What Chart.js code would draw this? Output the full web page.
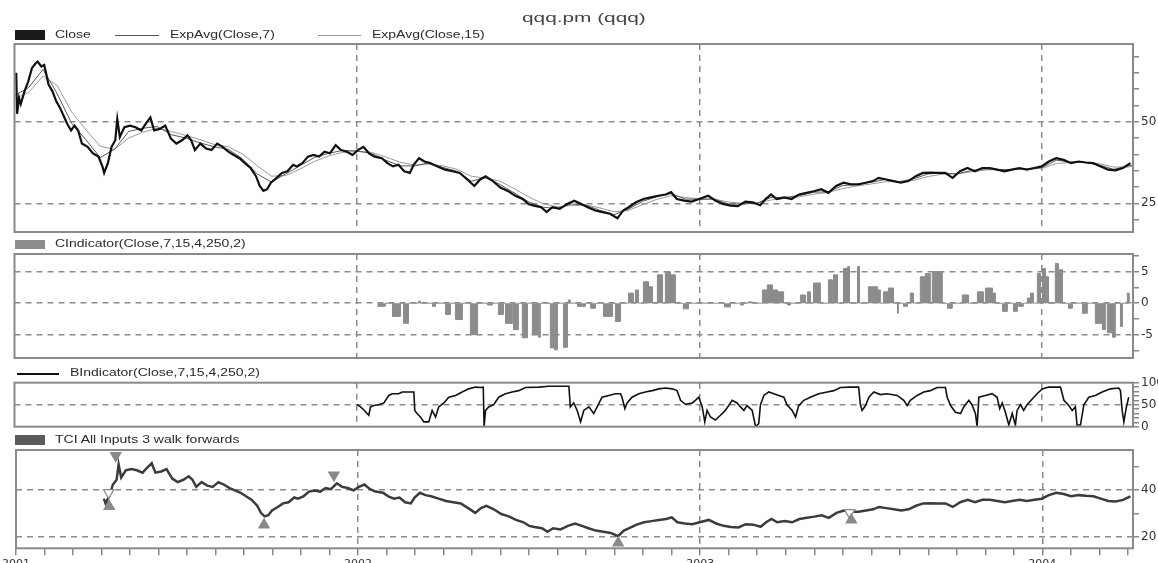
<!DOCTYPE html>
<html>
<head>
<meta charset="utf-8">
<title>qqq.pm (qqq)</title>
<script src="https://cdn.jsdelivr.net/npm/chart.js@4.4.1/dist/chart.umd.min.js"></script>
<style>
  html, body { margin: 0; padding: 0; background: #fff; }
  body { width: 1158px; height: 563px; overflow: hidden; position: relative; font-family: 'Liberation Sans', Arial, sans-serif; color: #2a2a2a; }
  canvas { position: absolute; left: 0; top: 0; }
  .txt { position: absolute; font-size: 10px; line-height: 12px; white-space: nowrap; transform: scaleX(1.4); transform-origin: 0 50%; z-index: 5; }
  .title { position: absolute; left: 522px; top: 10px; font-size: 13px; line-height: 15px; white-space: nowrap; transform: scaleX(1.6); transform-origin: 0 50%; color: #444; z-index: 5; }
  .sw { position: absolute; z-index: 5; }
</style>
</head>
<body>
<div class="title">qqq.pm (qqq)</div>

<div class="sw" style="left:15px;top:30px;width:30px;height:10px;background:#1a1a1a;"></div>
<div class="txt" style="left:55px;top:29px;">Close</div>
<div class="sw" style="left:115px;top:35px;width:44px;height:1px;background:#555;"></div>
<div class="txt" style="left:170px;top:29px;">ExpAvg(Close,7)</div>
<div class="sw" style="left:318px;top:35px;width:43px;height:1px;background:#999;"></div>
<div class="txt" style="left:372px;top:29px;">ExpAvg(Close,15)</div>

<div class="sw" style="left:15px;top:240px;width:30px;height:9px;background:#8c8c8c;"></div>
<div class="txt" style="left:55px;top:238px;">CIndicator(Close,7,15,4,250,2)</div>

<div class="sw" style="left:17px;top:373px;width:42px;height:1.5px;background:#111;"></div>
<div class="txt" style="left:70px;top:367px;">BIndicator(Close,7,15,4,250,2)</div>

<div class="sw" style="left:15px;top:435px;width:30px;height:10px;background:#5a5a5a;"></div>
<div class="txt" style="left:55px;top:434px;">TCI All Inputs 3 walk forwards</div>

<canvas id="pricePanel" width="1158" height="563"></canvas>
<canvas id="cPanel" width="1158" height="563"></canvas>
<canvas id="bPanel" width="1158" height="563"></canvas>
<canvas id="tciPanel" width="1158" height="563"></canvas>

<script>
// ** Data, x = months since Jan 2001

const closeMonths = [0.06,0.09,0.16,0.22,0.35,0.48,0.61,0.74,0.81,0.94,
  1.04,1.13,1.19,1.33,1.46,1.59,1.72,1.85,1.98,2.10,
  2.23,2.36,2.56,2.75,2.94,3.08,3.14,3.27,3.40,3.53,
  3.60,3.69,3.85,4.05,4.24,4.44,4.63,4.76,4.89,5.09,
  5.28,5.48,5.67,5.87,6.06,6.19,6.32,6.51,6.71,6.90,
  7.10,7.29,7.49,7.68,7.88,8.07,8.27,8.46,8.59,8.72,
  8.85,8.98,9.18,9.37,9.56,9.76,9.89,10.08,10.28,10.47,
  10.67,10.86,11.05,11.25,11.44,11.64,11.84,12.03,12.22,12.42,
  12.61,12.87,13.06,13.26,13.45,13.65,13.85,13.98,14.17,14.36,
  14.56,14.82,15.08,15.34,15.60,15.86,16.11,16.31,16.50,16.76,
  17.02,17.28,17.54,17.80,18.00,18.19,18.45,18.64,18.84,19.10,
  19.36,19.61,19.85,20.08,20.34,20.60,20.86,21.12,21.32,21.51,
  21.77,22.03,22.29,22.55,22.81,23.00,23.20,23.46,23.72,23.98,
  24.30,24.56,24.82,25.08,25.34,25.60,25.86,26.12,26.31,26.50,
  26.70,26.96,27.22,27.48,27.74,28.00,28.26,28.51,28.78,29.04,
  29.30,29.56,29.81,30.07,30.27,30.53,30.79,31.05,31.31,31.57,
  31.82,32.08,32.34,32.60,32.86,33.12,33.38,33.64,33.90,34.16,
  34.42,34.68,34.94,35.20,35.46,35.72,35.98,36.23,36.49,36.75,
  37.01,37.27,37.53,37.79,38.05,38.31,38.57,38.83,39.09]
const closeValues = [65.0,52.4,57.3,55.4,59.3,62.3,66.4,67.9,68.4,66.9,
  67.4,63.9,61.4,59.3,56.3,54.3,51.8,49.3,47.3,48.8,
  47.3,43.3,42.3,40.3,39.3,36.3,34.3,37.3,42.3,44.3,
  50.8,45.3,48.3,48.8,48.3,47.3,49.8,51.3,47.3,47.8,
  48.8,44.8,43.3,44.3,45.8,44.3,41.3,43.3,41.8,41.3,
  43.3,42.3,40.8,39.8,38.8,37.3,35.8,33.3,30.3,28.8,
  29.3,31.3,32.8,34.3,34.8,36.8,36.3,37.3,39.3,39.8,
  39.3,40.8,40.3,42.8,41.3,40.8,39.8,41.3,42.3,40.3,
  39.3,38.8,37.3,36.3,36.8,34.8,34.3,36.8,38.8,37.8,
  37.3,36.3,35.3,34.8,34.3,32.3,30.3,32.3,33.3,31.8,
  29.8,28.8,27.3,26.3,24.8,24.3,23.8,22.3,23.8,23.3,
  24.8,25.8,24.8,23.8,22.8,22.3,21.8,20.4,22.8,23.8,
  25.3,26.3,26.8,27.3,27.7,28.4,26.3,25.8,25.5,26.3,
  27.3,25.8,24.8,24.3,24.1,25.5,25.3,24.4,26.3,27.7,
  26.3,26.8,26.3,27.7,28.2,28.7,29.3,28.2,30.3,31.3,
  30.8,30.8,31.3,31.8,32.8,32.3,31.8,31.3,31.8,33.3,
  34.3,34.4,34.3,34.3,32.8,34.8,35.8,34.8,35.8,35.8,
  35.3,34.8,35.3,35.8,35.3,35.8,36.3,37.8,38.8,38.3,
  37.3,37.8,37.5,37.3,36.3,35.3,35.1,35.8,37.3]

const emaMonths = [0,0.5,1,1.5,2,2.5,3,3.5,4,4.5,5,5.5,6,6.5,7,7.5,8,8.5,9,9.5,
  10,10.5,11,11.5,12,12.5,13,13.5,14,14.5,15,15.5,16,16.5,17,17.5,18,18.5,19,19.5,
  20,20.5,21,21.5,22,22.5,23,23.5,24,24.5,25,25.5,26,26.5,27,27.5,28,28.5,29,29.5,
  30,30.5,31,31.5,32,32.5,33,33.5,34,34.5,35,35.5,36,36.5,37,37.5,38,38.5,39,39.2]
const ema7Values = [58,60.5,66,58.5,49.5,44.5,39,41.5,47,48,
  48.5,46,45,43.5,42.3,41.5,38.5,34,31.5,34,
  36.5,39,40.3,41.2,41,40.3,38.2,36.5,36.4,37.4,
  36,34.8,31.8,32.8,30.8,28.2,25.5,23.8,23.4,24.8,
  24.4,22.9,21.5,23.2,25.6,27,28,26.3,26.2,26.3,
  24.8,24.8,25,26.8,26.8,27.4,28.4,28.5,30.4,30.8,
  31.4,32.3,31.6,32.5,34,34.3,34,35,35.6,35.3,
  35.4,35.5,36,38.2,37.7,37.5,36.7,35.4,36.4,36.8]
const ema15Values = [57,59,64,61,53,47.5,42.5,41.5,45,46.8,
  48,47,45.8,44.5,43,42.3,40,36.5,33.3,33.5,
  35.5,37.8,39.5,40.6,40.9,40.6,39.2,37.6,36.7,37,
  36.5,35.4,33.3,32.7,31.8,29.5,27,24.9,23.9,24.3,
  24.5,23.6,22.4,22.8,24.6,26.2,27.3,26.8,26.3,26.3,
  25.4,25,25,26,26.5,27,27.8,28.3,29.5,30.3,
  30.9,31.6,31.7,32,33.2,33.9,34,34.6,35.2,35.3,
  35.3,35.4,35.7,37.2,37.5,37.5,37.1,36.1,36.1,36.4]

// CIndicator histogram: blocks of equal daily bars
const cStart = [12.71,13.24,13.63,14.15,14.64,15.10,15.45,15.97,16.57,16.95,
  17.20,17.48,17.79,18.14,18.35,18.77,18.91,19.23,19.40,19.72,
  20.18,20.63,21.05,21.51,21.75,22.03,22.21,22.52,22.80,22.98,
  23.43,24.87,25.43,25.71,26.20,26.37,26.55,26.73,27.08,27.53,
  27.78,27.99,28.51,28.69,29.04,29.18,29.53,29.91,30.23,30.44,
  30.61,30.93,31.14,31.38,31.73,31.91,32.15,32.33,32.68,33.20,
  33.73,34.01,34.26,34.61,34.99,35.17,35.48,35.59,35.83,36.01,
  36.11,36.46,36.57,36.92,37.41,37.86,38.11,38.28,38.46,38.74,38.98]
const cEnd = [12.99,13.52,13.80,14.22,14.75,15.27,15.69,16.22,16.74,17.13,
  17.44,17.65,17.97,18.32,18.42,18.88,19.02,19.37,19.47,20.00,
  20.35,20.95,21.23,21.68,21.86,22.21,22.35,22.70,22.98,23.15,
  23.61,25.08,25.53,25.85,26.37,26.55,26.73,26.94,27.18,27.71,
  27.88,28.23,28.65,28.83,29.18,29.25,29.60,30.23,30.33,30.61,
  30.79,30.96,31.28,31.49,31.91,32.08,32.33,32.50,32.85,33.42,
  33.94,34.26,34.36,34.78,35.13,35.34,35.59,35.69,35.94,36.11,
  36.22,36.57,36.71,37.06,37.58,38.11,38.21,38.46,38.56,38.81,39.05]
const cValue = [-0.5,-2.1,-3.2,0.3,-0.5,-1.8,-2.6,-5.0,-0.3,-1.8,
  -3.2,-4.2,-5.5,-5.0,-5.4,-7.1,-7.4,-7.0,0.5,-0.5,
  -0.8,-2.1,-2.9,1.6,2.1,3.4,2.6,4.5,5.0,4.5,
  -0.9,-0.6,-0.3,0.2,2.1,2.9,2.1,1.8,-0.3,1.3,
  1.8,3.2,3.7,4.5,5.5,5.8,5.8,2.6,2.1,1.8,
  2.4,-1.6,-0.5,1.6,4.2,4.7,5.0,5.0,-0.8,1.3,
  1.8,2.4,1.6,-1.3,-1.3,-0.5,0.8,1.6,4.7,5.5,
  4.2,6.3,5.3,-0.8,-1.6,-3.2,-4.2,-4.7,-5.4,-3.7,1.6]

const bMonths = [12.00,12.12,12.24,12.41,12.47,12.59,12.76,12.94,13.11,13.23,
  13.46,13.58,13.99,14.02,14.10,14.22,14.34,14.51,14.63,14.75,
  14.86,15.04,15.21,15.45,15.68,15.91,16.15,16.32,16.42,16.45,
  16.50,16.61,16.79,16.96,17.20,17.43,17.66,17.90,18.37,18.72,
  19.42,19.47,19.59,19.71,19.83,19.94,20.12,20.29,20.41,20.58,
  20.82,21.05,21.23,21.28,21.38,21.46,21.63,21.87,22.10,22.34,
  22.57,22.80,23.04,23.21,23.33,23.50,23.74,23.85,23.97,24.09,
  24.18,24.26,24.38,24.55,24.73,24.90,25.14,25.31,
  25.43,25.55,25.66,25.84,25.96,26.07,26.13,26.25,26.42,26.60,
  26.77,26.95,27.06,27.24,27.36,27.47,27.65,27.88,28.17,28.47,
  28.70,28.93,29.28,29.57,29.63,29.69,29.81,29.93,30.10,30.33,
  30.57,30.92,31.15,31.27,31.38,31.62,31.85,32.08,32.32,32.61,
  32.67,32.79,32.96,33.14,33.25,33.43,33.54,33.66,33.72,33.78,
  34.01,34.24,34.42,34.51,34.60,34.71,34.83,34.95,35.06,35.12,
  35.24,35.35,35.47,35.65,35.82,36.00,36.23,36.64,36.76,36.93,
  37.05,37.16,37.22,37.34,37.46,37.63,37.86,38.10,38.39,38.68,
  38.74,38.80,38.86,38.95,39.03]
const bValues = [50,45,38,26,45,48,50,54,71,75,
  75,79,79,37,30,22,11,11,37,22,
  45,54,67,71,79,86,90,89,90,0,
  37,45,50,67,75,79,82,89,90,92,
  92,45,54,37,11,37,45,30,45,67,
  71,75,75,67,41,54,67,75,79,82,
  86,88,86,82,60,51,54,60,67,45,
  11,37,22,15,26,37,60,54,
  45,37,48,37,0,7,50,71,79,75,
  71,67,50,37,22,48,60,67,75,79,
  82,89,90,90,50,37,48,67,79,73,
  75,71,60,48,60,71,79,82,89,89,
  67,48,33,30,45,60,50,30,0,67,
  71,75,67,41,54,33,4,30,4,37,
  50,37,50,63,75,86,90,90,60,48,
  37,45,4,4,50,67,71,79,86,88,
  82,37,11,45,67]

// TCI trade markers
const buyMonths = [3.27, 8.70, 21.12, 29.30]
const buyValues = [33, 25.2, 17.6, 27.3]
const sellMonths = [3.50, 11.15]
const sellValues = [54.5, 46.3]
const exitMonths = [3.25, 29.24]
const exitValues = [38.9, 30.4]
const tciFrom = 3.08

// ** Axes
const yearLabels = ['2001', '2002', '2003', '2004']
const yearGrid = [12, 24, 36]
const monthTicks = Array.from({ length: 40 }, (_, i) => i)
const xMax = 39.18

const priceTicks = [20, 25, 30, 35, 40, 45, 50, 55, 60, 65, 70]
const priceLabels = [25, 50]
const cTicks = [-7.5, -5, -2.5, 0, 2.5, 5, 7.5]
const cLabels = [-5, 0, 5]
const bTicks = [0, 10, 20, 30, 40, 50, 60, 70, 80, 90, 100]
const bLabels = [0, 50, 100]
const tciTicks = [20, 30, 40, 50]
const tciLabels = [20, 40]

const GRID = '#8c8c8c'
Chart.defaults.font.family = "'DejaVu Sans', sans-serif"
Chart.defaults.font.size = 12

const pts = (xs, ys) => xs.map((x, i) => ({ x, y: ys[i] }))

const frame = {
  id: 'frame',
  afterDraw(chart) {
    const { ctx, chartArea: a } = chart
    ctx.save()
    ctx.strokeStyle = '#8a8a8a'
    ctx.lineWidth = 2
    ctx.strokeRect(a.left, a.top, a.right - a.left, a.bottom - a.top)
    ctx.restore()
  }
}

function xScale(show) {
  return {
    type: 'linear',
    min: 0,
    max: xMax,
    afterBuildTicks: s => { s.ticks = monthTicks.map(v => ({ value: v })) },
    afterFit: s => { s.height = show ? 14.7 : 0 },
    border: { display: false, dash: [6, 5] },
    grid: {
      color: c => (c.tick && yearGrid.includes(c.tick.value) ? GRID : 'rgba(0,0,0,0)'),
      lineWidth: 1.5,
      drawTicks: show,
      tickColor: '#888',
      tickLength: 7,
      tickWidth: 1.5,
      tickBorderDash: []
    },
    ticks: {
      display: show,
      autoSkip: false,
      maxRotation: 0,
      padding: 2,
      color: '#333',
      font: { size: 11 },
      callback: v => (v % 12 === 0 ? yearLabels[v / 12] : '')
    }
  }
}

function yScale(min, max, ticks, labels, grid) {
  return {
    position: 'right',
    min,
    max,
    afterBuildTicks: s => { s.ticks = ticks.map(v => ({ value: v })) },
    afterFit: s => { s.width = 25 },
    border: { display: false, dash: [6, 5] },
    grid: {
      color: c => (c.tick && grid.includes(c.tick.value) ? GRID : 'rgba(0,0,0,0)'),
      lineWidth: 1.5,
      tickColor: '#888',
      tickLength: 6,
      tickWidth: 1.5,
      tickBorderDash: []
    },
    ticks: {
      autoSkip: false,
      padding: 2,
      color: '#333',
      callback: v => (labels.includes(v) ? String(v) : '')
    }
  }
}

function panel(id, top, bottom, showX, y, datasets) {
  return new Chart(document.getElementById(id), {
    type: 'line',
    data: { datasets },
    options: {
      responsive: false,
      animation: false,
      events: [],
      layout: { padding: { top, left: 14.5, right: 0, bottom: 563 - bottom - (showX ? 14.7 : 0) } },
      elements: { point: { radius: 0 }, line: { tension: 0 } },
      plugins: { legend: { display: false }, tooltip: { enabled: false } },
      scales: { x: xScale(showX), y }
    },
    plugins: [frame]
  })
}

// ** Price panel
panel('pricePanel', 44, 232, false, yScale(16.2, 73.8, priceTicks, priceLabels, [25, 50]), [
  { data: pts(closeMonths, closeValues), borderColor: '#111', borderWidth: 2.2 },
  { data: pts(emaMonths, ema7Values), borderColor: '#5a5a5a', borderWidth: 1 },
  { data: pts(emaMonths, ema15Values), borderColor: '#9a9a9a', borderWidth: 1 }
])

// ** CIndicator histogram, each block held flat then back to zero
const cPoints = []
cStart.forEach((s, i) => {
  cPoints.push({ x: s, y: cValue[i] })
  cPoints.push({ x: cEnd[i], y: 0 })
})
panel('cPanel', 254, 358, false, yScale(-8.7, 7.8, cTicks, cLabels, [-5, 0, 5]), [
  { data: cPoints, stepped: true, fill: 'origin', backgroundColor: '#8c8c8c', borderColor: '#8c8c8c', borderWidth: 1 }
])

// ** BIndicator line
panel('bPanel', 382.7, 426.7, false, yScale(0, 100, bTicks, bLabels, [50]), [
  { data: pts(bMonths, bValues), borderColor: '#111', borderWidth: 1.6 }
])

// ** TCI walk forward
const tciStart = closeMonths.findIndex(m => m >= tciFrom)
const marker = (xs, ys, rot, fillColor) => ({
  data: pts(xs, ys),
  showLine: false,
  pointStyle: 'triangle',
  pointRadius: 6,
  pointRotation: rot,
  pointBackgroundColor: fillColor,
  pointBorderColor: '#888',
  pointBorderWidth: 1.2
})
panel('tciPanel', 450, 548.3, true, yScale(15.3, 56.9, tciTicks, tciLabels, [20, 40]), [
  marker(buyMonths, buyValues, 0, '#8a8a8a'),
  marker(sellMonths, sellValues, 180, '#8a8a8a'),
  marker(exitMonths, exitValues, 180, '#ffffff'),
  { data: pts(closeMonths.slice(tciStart), closeValues.slice(tciStart)), borderColor: '#3c3c3c', borderWidth: 2.5 }
])
</script>
</body>
</html>
